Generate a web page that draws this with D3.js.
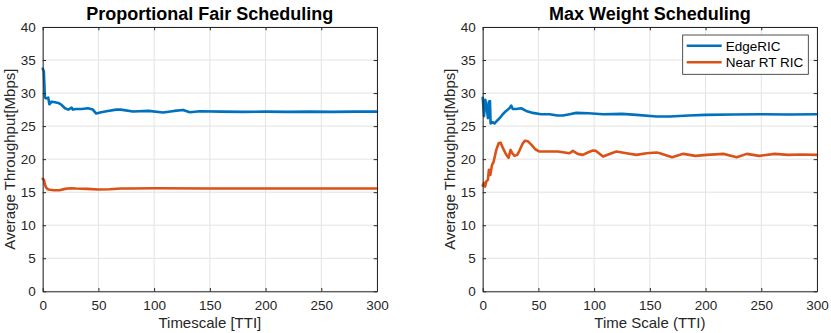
<!DOCTYPE html>
<html>
<head>
<meta charset="utf-8">
<script src="https://cdn.jsdelivr.net/npm/d3@7"></script>
<style>
  html, body { margin: 0; padding: 0; background: #fff; }
  svg { display: block; }
  text { font-family: "Liberation Sans", Arial, Helvetica, sans-serif; fill: #262626; }
</style>
</head>
<body>
<svg id="chart" width="831" height="333"></svg>
<script>
// ---------- DATA ----------
const xTicks = [0, 50, 100, 150, 200, 250, 300];
const yTicks = [0, 5, 10, 15, 20, 25, 30, 35, 40];
const seriesNames = ["EdgeRIC", "Near RT RIC"];
const titles = ["Proportional Fair Scheduling", "Max Weight Scheduling"];
const xLabels = ["Timescale [TTI]", "Time Scale (TTI)"];
const yLabel = "Average Throughput[Mbps]";

// Proportional Fair - EdgeRIC
const pfEdgeT = [0, 1, 2, 3, 5, 6, 8, 11, 14, 17, 20, 23, 26, 27, 30, 35, 40.5, 45, 48, 52.5, 58.5, 66, 70, 81, 95, 108, 118, 126, 132, 141, 160, 180, 200, 220, 240, 260, 280, 300];
const pfEdgeV = [33.7, 33.3, 29.3, 29.2, 29.3, 28.3, 28.7, 28.6, 28.5, 28.2, 27.7, 27.5, 27.8, 27.5, 27.6, 27.6, 27.7, 27.5, 26.9, 27.1, 27.3, 27.5, 27.5, 27.2, 27.3, 27.05, 27.3, 27.45, 27.1, 27.25, 27.2, 27.15, 27.2, 27.15, 27.2, 27.15, 27.2, 27.2];
// Proportional Fair - Near RT RIC
const pfNearT = [0, 1, 2, 3, 5, 10, 15, 20, 25, 30, 40, 50, 60, 70, 80, 100, 150, 200, 250, 300];
const pfNearV = [17.0, 16.9, 16.2, 15.7, 15.4, 15.3, 15.3, 15.5, 15.6, 15.55, 15.5, 15.4, 15.45, 15.55, 15.55, 15.6, 15.55, 15.55, 15.55, 15.55];
// Max Weight - EdgeRIC
const mwEdgeT = [0, 1.2, 2.3, 3.3, 4.7, 5.6, 6.5, 7.1, 9.2, 10.7, 12.2, 15.2, 18, 21, 24, 25.6, 27, 30, 34.5, 39, 45, 52.5, 60, 67, 72, 78, 84, 95, 108, 125, 138, 156, 168, 185, 200, 225, 250, 275, 300];
const mwEdgeV = [29.3, 26.5, 29.0, 28.2, 26.2, 28.7, 28.8, 25.4, 25.6, 25.4, 25.7, 26.2, 26.8, 27.3, 27.7, 28.1, 27.6, 27.6, 27.7, 27.3, 27.0, 26.8, 26.8, 26.6, 26.6, 26.8, 27.0, 26.95, 26.8, 26.85, 26.7, 26.45, 26.45, 26.6, 26.7, 26.75, 26.8, 26.75, 26.8];
// Max Weight - Near RT RIC
const mwNearT = [0, 1.2, 2.2, 3.2, 4.7, 5.6, 6.8, 8.3, 9.8, 12.2, 14.3, 16.1, 18.1, 21, 23.2, 25, 26.5, 28.6, 31, 33, 36, 38, 40.6, 43.6, 47.2, 51, 55.5, 61.5, 67.4, 73.4, 77.9, 80.9, 85.3, 89.8, 94.3, 98.8, 101.7, 108, 115.6, 120, 129, 138, 147, 156, 159, 170, 180, 191, 201, 216, 228, 237, 248, 262, 274, 286, 300];
const mwNearV = [16.0, 16.4, 15.85, 16.6, 16.9, 18.4, 17.6, 19.1, 19.6, 21.4, 22.4, 22.5, 21.7, 20.7, 20.2, 21.4, 20.9, 20.5, 20.65, 21.3, 22.4, 22.8, 22.7, 22.2, 21.5, 21.15, 21.15, 21.15, 21.15, 21.0, 20.9, 21.25, 20.8, 20.65, 21.0, 21.3, 21.25, 20.4, 20.9, 21.15, 20.9, 20.65, 20.9, 21.0, 20.9, 20.3, 20.8, 20.5, 20.65, 20.8, 20.3, 20.8, 20.5, 20.8, 20.65, 20.7, 20.65];

// ---------- LAYOUT ----------
const colors = ["#0072BD", "#D95319"];
const svg = d3.select("#chart");
const panels = [
  { x0: 42.7, x1: 377, series: [[pfEdgeT, pfEdgeV], [pfNearT, pfNearV]], legend: false },
  { x0: 482.7, x1: 817, series: [[mwEdgeT, mwEdgeV], [mwNearT, mwNearV]], legend: true }
];
const yTop = 27, yBot = 291.3;
const axisColor = "#262626";
const gridColor = "#e3e3e3";
const tickLen = 3.3;

panels.forEach((p, i) => {
  const x = d3.scaleLinear().domain([0, 300]).range([p.x0, p.x1]);
  const y = d3.scaleLinear().domain([0, 40]).range([yBot, yTop]);
  const g = svg.append("g");

  // grid
  g.append("g").selectAll("line.vx").data(xTicks).join("line")
    .attr("x1", d => x(d)).attr("x2", d => x(d)).attr("y1", yTop).attr("y2", yBot)
    .attr("stroke", gridColor).attr("stroke-width", 1);
  g.append("g").selectAll("line.hy").data(yTicks).join("line")
    .attr("x1", p.x0).attr("x2", p.x1).attr("y1", d => y(d)).attr("y2", d => y(d))
    .attr("stroke", gridColor).attr("stroke-width", 1);

  // data lines
  const line = d3.line().x(d => x(d[0])).y(d => y(d[1]));
  p.series.forEach((s, k) => {
    const pts = s[0].map((t, j) => [t, s[1][j]]);
    g.append("path").datum(pts).attr("d", line)
      .attr("fill", "none").attr("stroke", colors[k]).attr("stroke-width", 2.6)
      .attr("stroke-linejoin", "round").attr("stroke-linecap", "round");
  });

  // axes (bottom/left with labels, top/right box with inward ticks)
  const xb = g.append("g").attr("transform", `translate(0,${yBot})`)
    .call(d3.axisBottom(x).tickValues(xTicks).tickSizeInner(-tickLen).tickSizeOuter(0).tickPadding(9));
  const xt = g.append("g").attr("transform", `translate(0,${yTop})`)
    .call(d3.axisTop(x).tickValues(xTicks).tickSizeInner(-tickLen).tickSizeOuter(0).tickFormat(""));
  const yl = g.append("g").attr("transform", `translate(${p.x0},0)`)
    .call(d3.axisLeft(y).tickValues(yTicks).tickSizeInner(-tickLen).tickSizeOuter(0).tickPadding(7));
  const yr = g.append("g").attr("transform", `translate(${p.x1},0)`)
    .call(d3.axisRight(y).tickValues(yTicks).tickSizeInner(-tickLen).tickSizeOuter(0).tickFormat(""));
  [xb, xt, yl, yr].forEach(a => {
    a.selectAll("path.domain").attr("stroke", axisColor).attr("stroke-width", 1);
    a.selectAll(".tick line").attr("stroke", axisColor).attr("stroke-width", 1);
    a.selectAll(".tick text").attr("fill", axisColor)
      .style("font-family", '"Liberation Sans", Arial, Helvetica, sans-serif').style("font-size", "13.5px");
  });

  // title
  g.append("text").attr("x", (p.x0 + p.x1) / 2).attr("y", 20)
    .attr("text-anchor", "middle").style("font-size", "18px").style("font-weight", "bold")
    .style("fill", "#000").text(titles[i]);
  // x label
  g.append("text").attr("x", (p.x0 + p.x1) / 2).attr("y", 328)
    .attr("text-anchor", "middle").style("font-size", "15px").text(xLabels[i]);
  // y label
  g.append("text").attr("transform", `translate(${p.x0 - 27.5},${(yTop + yBot) / 2}) rotate(-90)`)
    .attr("text-anchor", "middle").style("font-size", "15px").text(yLabel);

  // legend
  if (p.legend) {
    const lg = g.append("g");
    lg.append("rect").attr("x", 682.7).attr("y", 35).attr("width", 125.6).attr("height", 39.3)
      .attr("fill", "#fff").attr("stroke", axisColor).attr("stroke-width", 0.8);
    seriesNames.forEach((n, k) => {
      const yy = 45.7 + k * 16.6;
      lg.append("line").attr("x1", 686.7).attr("x2", 721.7).attr("y1", yy).attr("y2", yy)
        .attr("stroke", colors[k]).attr("stroke-width", 2.6);
      lg.append("text").attr("x", 725.7).attr("y", yy + 5).style("font-size", "13.5px")
        .style("fill", "#000").text(n);
    });
  }
});
</script>
</body>
</html>
